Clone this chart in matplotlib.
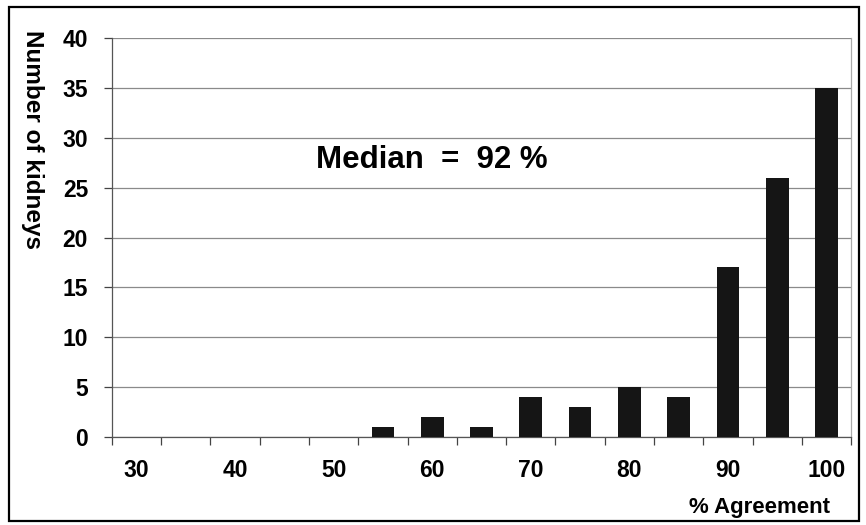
import numpy as np
import matplotlib.pyplot as plt
from matplotlib.patches import Rectangle

plt.rcParams['font.family'] = ['Liberation Sans', 'DejaVu Sans']
plt.rcParams['font.weight'] = 'bold'

agreement = [30, 35, 40, 45, 50, 55, 60, 65, 70, 75, 80, 85, 90, 95, 100]
kidneys = [0, 0, 0, 0, 0, 1, 2, 1, 4, 3, 5, 4, 17, 26, 35]
tick_labels = ['30', '', '40', '', '50', '', '60', '', '70', '', '80', '', '90', '', '100']

fig = plt.figure(figsize=(8.66, 5.25), dpi=100)
ax = fig.add_axes([0.129, 0.1676, 0.854, 0.7600])

x = np.arange(len(agreement))
ax.bar(x, kidneys, width=0.46, color='#151515', zorder=3)

ax.set_xlim(-0.5, len(agreement) - 0.5)
ax.set_ylim(0, 40)
ax.set_yticks(range(0, 41, 5))
ax.yaxis.grid(True, color='#8a8a8a', linewidth=0.9, zorder=0)

# category labels under centres, tick marks at category boundaries
ax.set_xticks(x)
ax.set_xticklabels(tick_labels)
ax.tick_params(axis='x', which='major', length=0, pad=16, labelsize=16.5)
ax.set_xticks(np.arange(-0.5, len(agreement)), minor=True)
ax.tick_params(axis='x', which='minor', length=6, width=0.9, color='#444444', direction='out')
ax.tick_params(axis='y', length=6, width=0.9, color='#444444', labelsize=16.5, pad=11)

for s in ['left', 'bottom']:
    ax.spines[s].set_color('#555555')
    ax.spines[s].set_linewidth(0.9)
ax.spines['right'].set_color('#aaaaaa')
ax.spines['right'].set_linewidth(0.9)
ax.spines['top'].set_visible(False)

ax.text(6.0, 27.8, 'Median  =  92 %', fontsize=22.5, fontweight='bold',
        ha='center', va='center')

fig.text(0.037, 0.735, 'Number of kidneys', rotation=-90, fontsize=17.5,
         fontweight='bold', ha='center', va='center')
fig.text(0.959, 0.034, '% Agreement', fontsize=16, fontweight='bold',
         ha='right', va='center')

fig.patches.append(Rectangle((0.010, 0.008), 0.982, 0.978, transform=fig.transFigure,
                             fill=False, edgecolor='black', linewidth=1.6))

fig.savefig('out.png', dpi=100)
